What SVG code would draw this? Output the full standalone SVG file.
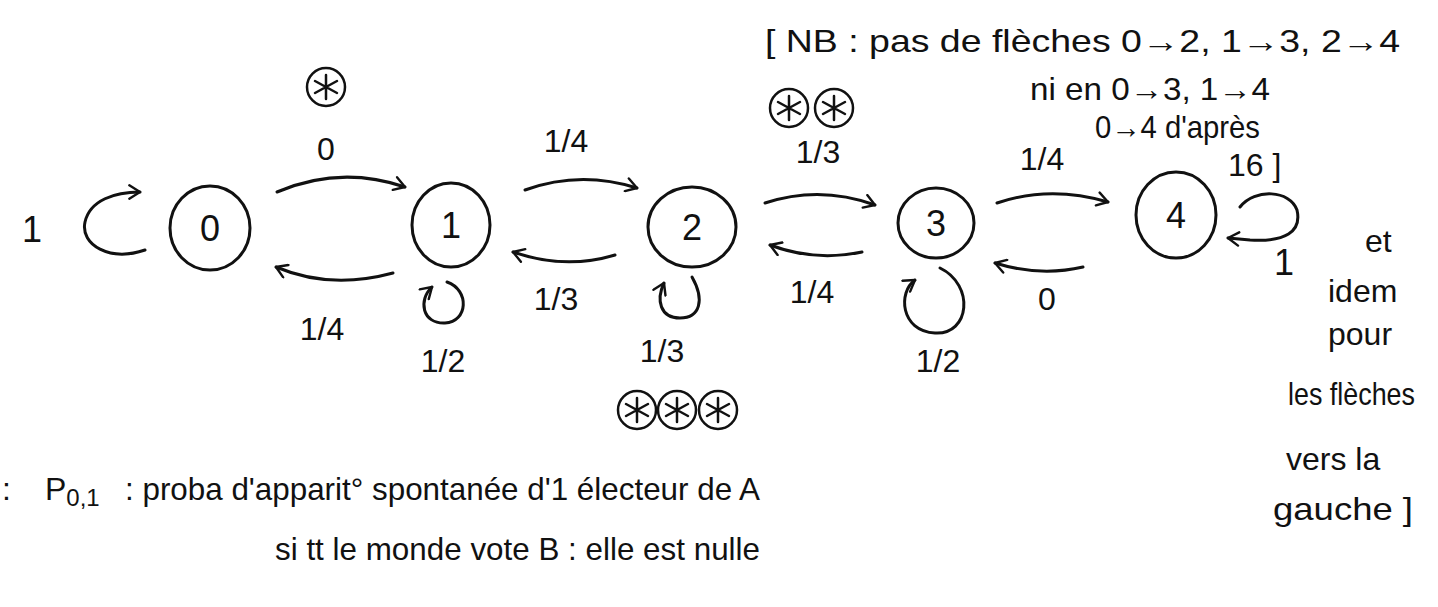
<svg xmlns="http://www.w3.org/2000/svg" width="1438" height="607" viewBox="0 0 1438 607">
<defs>
<style>
.s{fill:none;stroke:#111;stroke-width:3;stroke-linecap:round;stroke-linejoin:round}
.t{font-family:"Liberation Sans",Arial,sans-serif;fill:#111;font-size:32px}
.n{font-family:"Liberation Sans",Arial,sans-serif;fill:#111;font-size:36px;text-anchor:middle}
.l{text-anchor:middle}
.big{font-size:36px}
</style>
<marker id="ah" viewBox="0 0 12 12" refX="10" refY="6" markerWidth="16" markerHeight="16" markerUnits="userSpaceOnUse" orient="auto">
<path d="M2,1 L10,6 L2,11" fill="none" stroke="#111" stroke-width="1.8" stroke-linecap="round" stroke-linejoin="round"/>
</marker>
<g id="star">
<circle cx="0" cy="0" r="19" fill="none" stroke="#111" stroke-width="2.5"/>
<path d="M0,-12 L0,12 M-11,-6 L11,6 M-11,6 L11,-6" fill="none" stroke="#111" stroke-width="2.5" stroke-linecap="round"/>
</g>
</defs>
<rect width="1438" height="607" fill="#fff"/>

<g id="node0"><ellipse class="s" cx="210" cy="228" rx="40" ry="42"/><text class="n" x="210" y="241">0</text></g>
<g id="node1"><ellipse class="s" cx="451" cy="225" rx="39" ry="42"/><text class="n" x="451" y="238">1</text></g>
<g id="node2"><ellipse class="s" cx="692" cy="227" rx="44" ry="40"/><text class="n" x="692" y="240">2</text></g>
<g id="node3"><ellipse class="s" cx="936" cy="223" rx="38" ry="35"/><text class="n" x="936" y="236">3</text></g>
<g id="node4"><ellipse class="s" cx="1176" cy="215" rx="40" ry="43"/><text class="n" x="1176" y="228">4</text></g>

<g id="connectors">
<path class="s" d="M277,192 Q340,165 405,187" marker-end="url(#ah)"/>
<path class="s" d="M393,273 Q330,290 276,267" marker-end="url(#ah)"/>
<path class="s" d="M525,190 Q580,170 637,188" marker-end="url(#ah)"/>
<path class="s" d="M615,255 Q565,270 513,252" marker-end="url(#ah)"/>
<path class="s" d="M765,203 Q820,185 875,205" marker-end="url(#ah)"/>
<path class="s" d="M862,252 Q815,262 770,245" marker-end="url(#ah)"/>
<path class="s" d="M997,203 Q1050,185 1108,202" marker-end="url(#ah)"/>
<path class="s" d="M1083,267 Q1040,277 995,263" marker-end="url(#ah)"/>
<path class="s" d="M145,250 C110,262 80,245 85,222 C90,200 115,192 140,192" marker-end="url(#ah)"/>
<path class="s" d="M1240,207 C1255,188 1290,190 1297,210 C1302,232 1285,242 1250,240 L1228,238" marker-end="url(#ah)"/>
<path class="s" d="M447,282 C470,290 468,322 445,323 C422,324 418,300 432,287" marker-end="url(#ah)"/>
<path class="s" d="M692,277 C705,300 700,318 680,318 C660,318 656,300 664,283" marker-end="url(#ah)"/>
<path class="s" d="M940,268 C975,285 970,335 935,333 C900,331 898,292 915,280" marker-end="url(#ah)"/>
</g>

<g id="labels">
<text class="t l big" x="32" y="242">1</text>
<use href="#star" x="326" y="87"/>
<text class="t l" x="326" y="160">0</text>
<text class="t l" x="322" y="340">1/4</text>
<text class="t l" x="443" y="372">1/2</text>
<text class="t l" x="566" y="152">1/4</text>
<text class="t l" x="556" y="310">1/3</text>
<text class="t l" x="662" y="362">1/3</text>
<use href="#star" x="637" y="410"/>
<use href="#star" x="677" y="410"/>
<use href="#star" x="718" y="410"/>
<use href="#star" x="789" y="108"/>
<use href="#star" x="834" y="108"/>
<text class="t l" x="818" y="163">1/3</text>
<text class="t l" x="812" y="303">1/4</text>
<text class="t l" x="938" y="372">1/2</text>
<text class="t l" x="1042" y="170">1/4</text>
<text class="t l" x="1047" y="310">0</text>
<text class="t l big" x="1284" y="275">1</text>
</g>

<g id="notes">
<text class="t" x="765" y="52" font-size="34" textLength="635" lengthAdjust="spacingAndGlyphs">[ NB : pas de flèches 0→2, 1→3, 2→4</text>
<text class="t" x="1030" y="100" font-size="29" textLength="240" lengthAdjust="spacingAndGlyphs">ni en 0→3, 1→4</text>
<text class="t" x="1095" y="138" font-size="27" textLength="165" lengthAdjust="spacingAndGlyphs">0→4 d'après</text>
<text class="t" x="1228" y="176" font-size="30">16 ]</text>
<text class="t" x="1365" y="252">et</text>
<text class="t" x="1328" y="302">idem</text>
<text class="t" x="1328" y="345">pour</text>
<text class="t" x="1288" y="405" font-size="30" textLength="127" lengthAdjust="spacingAndGlyphs">les flèches</text>
<text class="t" x="1286" y="470">vers la</text>
<text class="t" x="1273" y="520" textLength="140" lengthAdjust="spacingAndGlyphs">gauche ]</text>
<text class="t" x="2" y="500" font-size="36">:</text>
<text class="t" x="45" y="500" font-size="40">P<tspan font-size="24" dy="6">0,1</tspan></text>
<text class="t" x="125" y="500" font-size="36" textLength="635" lengthAdjust="spacingAndGlyphs">: proba d'apparit° spontanée d'1 électeur de A</text>
<text class="t" x="275" y="560" font-size="36" textLength="485" lengthAdjust="spacingAndGlyphs">si tt le monde vote B : elle est nulle</text>
</g>
</svg>
